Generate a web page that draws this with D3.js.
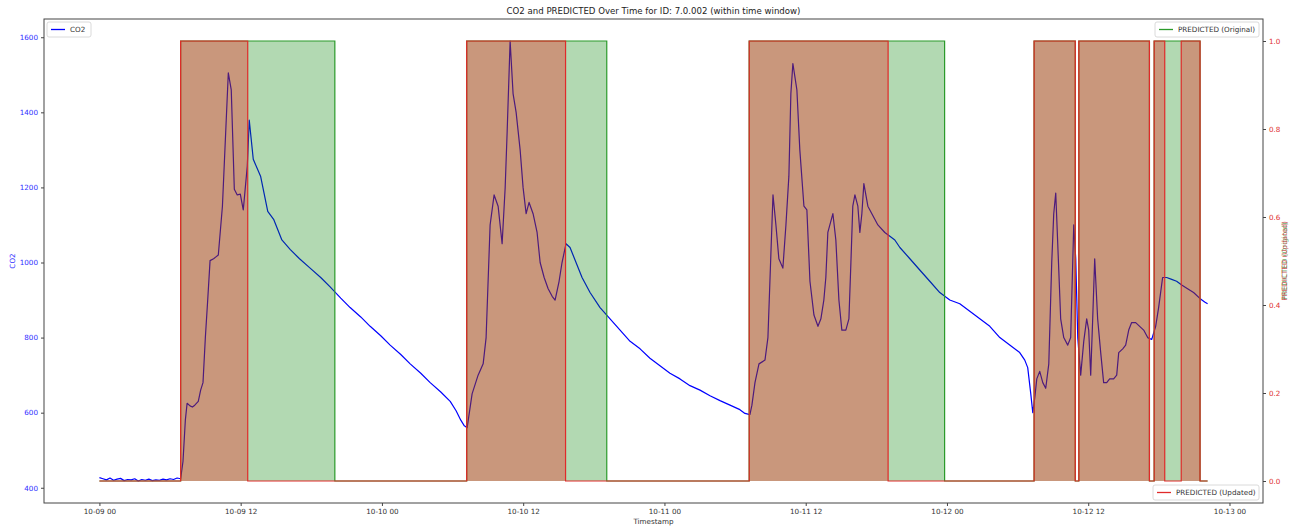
<!DOCTYPE html>
<html>
<head>
<meta charset="utf-8">
<script src="https://cdn.jsdelivr.net/npm/d3@7/dist/d3.min.js"></script>
<style>
  body { margin: 0; background: #fff; }
  svg text { font-family: "DejaVu Sans", sans-serif; }
</style>
</head>
<body>
<svg id="chart" width="1300" height="528"></svg>
<script>
// ---- data ----
const baseDate = new Date(2023, 9, 9, 0, 0, 0); // 10-09 00:00
const co2Hours = [
  0, 0.3, 0.6, 0.9, 1.2, 1.5, 1.8, 2.1, 2.4, 2.7, 3.0, 3.3, 3.6, 3.9, 4.2, 4.5, 4.8, 5.1, 5.4, 5.7, 6.0, 6.3, 6.6, 6.9,
  7.1, 7.3, 7.45, 7.7, 7.9, 8.1, 8.4, 8.6, 8.8, 9.0, 9.2, 9.4, 9.7, 9.9, 10.1, 10.45, 10.95, 11.2, 11.46, 11.71, 11.97, 12.22, 12.56, 12.73,
  13.07, 13.7, 14.3, 14.8, 15.5, 16.2, 17.0, 17.9, 18.8, 19.6, 20.5, 21.3, 22.2, 23.0, 23.9, 24.7, 25.6, 26.4, 27.3, 28.1, 29.0, 29.8, 30.3, 30.7, 31.0, 31.24,
  31.66, 32.17, 32.6, 32.85, 33.19, 33.53, 33.87, 34.21, 34.47, 34.64, 34.89, 35.14, 35.4, 35.74, 35.99, 36.25, 36.5, 36.84, 37.18, 37.44, 37.78, 38.12, 38.46, 38.71, 39.05, 39.3, 39.64,
  39.98, 40.49, 41.0, 41.68, 42.53, 43.38, 44.23, 45.08, 45.93, 46.77, 47.62, 48.47, 49.32, 50.17, 51.02, 51.87, 52.72, 53.57, 54.41, 54.84, 55.26,
  55.43, 55.69, 56.03, 56.54, 56.79, 56.96, 57.22, 57.47, 57.72, 58.06, 58.32, 58.57, 58.74, 58.91, 59.25, 59.5, 59.85, 60.1, 60.36, 60.7, 61.04, 61.29, 61.54, 61.71, 61.88, 62.31, 62.56, 62.82, 63.07, 63.41, 63.67, 63.84, 64.0, 64.18, 64.43, 64.6, 64.77, 64.94, 65.28, 65.62, 66.13, 66.72,
  67.15, 67.57, 68.0, 68.85, 69.69, 70.54, 71.39, 72.24, 73.09, 73.94, 74.79, 75.64, 76.49, 77.33, 78.18, 78.61, 78.86, 79.12, 79.29,
  79.46, 79.63, 79.88, 80.14, 80.39, 80.65, 80.9, 81.07, 81.24, 81.41, 81.66, 81.92, 82.26, 82.51, 82.77, 82.94, 83.11, 83.36, 83.62, 83.87, 84.04, 84.21, 84.38, 84.55, 84.8, 85.06, 85.31, 85.57, 85.82, 86.16, 86.42, 86.59, 86.93, 87.18, 87.44, 87.69, 88.03, 88.37, 88.71, 89.05, 89.39,
  89.73, 89.98, 90.32, 90.66, 91.09, 91.51, 91.94, 92.44, 92.95, 93.46, 93.89, 94.14
];
const co2Values = [
  427, 424, 421, 426, 420, 423, 425, 419, 422, 421, 424, 418, 422, 420, 423, 419, 421, 420, 423, 421, 424, 422, 426, 424,
  470, 580, 625, 618, 615, 620, 630, 660, 680, 800, 900, 1005, 1010, 1015, 1020, 1150, 1505, 1460, 1195, 1180, 1182, 1140, 1256, 1379,
  1275, 1229, 1136, 1115, 1060, 1035, 1010, 985, 960, 935, 905, 880, 855, 830, 805, 780, 755, 730, 705, 680, 655, 630, 605, 580, 565, 560,
  650, 700, 730, 800, 1100, 1180, 1150, 1050, 1200, 1350, 1590, 1450, 1400, 1300, 1200, 1130, 1160, 1130, 1080, 1000, 960, 930, 910, 900, 950, 1000, 1050,
  1040, 1000, 960, 920, 880, 850, 820, 790, 770, 745, 725, 705, 690, 672, 660, 645, 632, 620, 608, 598, 595,
  620, 680, 730, 740, 800, 950, 1180, 1100, 1010, 985, 1100, 1230, 1450, 1530, 1460, 1300, 1150, 1140, 950, 860, 830, 850, 900, 960, 1080, 1130, 1060, 900, 820, 820, 850, 1000, 1150, 1180, 1150, 1080, 1130, 1210, 1150, 1130, 1100, 1080,
  1070, 1060, 1040, 1010, 980, 950, 920, 900, 890, 870, 850, 830, 800, 780, 760, 740, 720, 650, 600,
  640, 690, 710, 680, 665, 730, 1000, 1130, 1185, 1050, 850, 800, 780, 800, 1100, 1010, 800, 700, 790, 850, 820, 700, 850, 1010, 850, 760, 680, 680, 690, 690, 700, 760, 770, 780, 820, 840, 840, 830, 820, 800, 795,
  830, 880, 960, 960, 955, 950, 940, 930, 920, 905, 895, 890
];
// PREDICTED periods (value 1 between start and end hour), 0 elsewhere
const originalStart = [6.9, 31.2, 55.2, 79.4, 83.2, 89.6];
const originalEnd   = [20.0, 43.1, 71.8, 82.9, 89.2, 93.5];
const updatedStart  = [6.9, 31.2, 55.2, 79.4, 83.2, 89.6, 91.9];
const updatedEnd    = [12.6, 39.6, 67.0, 82.9, 89.2, 90.5, 93.5];
const seriesEndHour = 94.14;
const leftTicks = [400, 600, 800, 1000, 1200, 1400, 1600];
const rightTicks = [0.0, 0.2, 0.4, 0.6, 0.8, 1.0];
const titleText = "CO2 and PREDICTED Over Time for ID: 7.0.002 (within time window)";

// ---- helpers ----
const toDate = h => new Date(baseDate.getTime() + h * 3600 * 1000);
function stepSeries(starts, ends) {
  const pts = [{t: 0, v: 0}];
  starts.forEach((s, i) => {
    pts.push({t: s, v: 0}, {t: s, v: 1}, {t: ends[i], v: 1}, {t: ends[i], v: 0});
  });
  pts.push({t: seriesEndHour, v: 0});
  return pts;
}
const co2 = co2Hours.map((h, i) => ({t: h, v: co2Values[i]}));
const orig = stepSeries(originalStart, originalEnd);
const upd = stepSeries(updatedStart, updatedEnd);

// ---- layout ----
const svg = d3.select("#chart");
const L = 44, R = 1263, T = 19, B = 503;

const hExt = [0, seriesEndHour];
const hPad = (hExt[1] - hExt[0]) * 0.05;
const x = d3.scaleTime().domain([toDate(hExt[0] - hPad), toDate(hExt[1] + hPad)]).range([L, R]);
const vExt = d3.extent(co2Values);
const vPad = (vExt[1] - vExt[0]) * 0.05;
const y = d3.scaleLinear().domain([vExt[0] - vPad, vExt[1] + vPad]).range([B, T]);
const y2 = d3.scaleLinear().domain([-0.05, 1.05]).range([B, T]);

svg.append("clipPath").attr("id", "clip").append("rect")
  .attr("x", L).attr("y", T).attr("width", R - L).attr("height", B - T);

const plot = svg.append("g").attr("clip-path", "url(#clip)");

// CO2 line (drawn under the twin axis fills)
plot.append("path").datum(co2)
  .attr("fill", "none").attr("stroke", "#0000ff").attr("stroke-width", 1.2)
  .attr("stroke-linejoin", "round")
  .attr("d", d3.line().x(d => x(toDate(d.t))).y(d => y(d.v)));

const area2 = d3.area().x(d => x(toDate(d.t))).y0(y2(0)).y1(d => y2(d.v));
const line2 = d3.line().x(d => x(toDate(d.t))).y(d => y2(d.v));

plot.append("path").datum(orig).attr("fill", "green").attr("fill-opacity", 0.3).attr("stroke", "none").attr("d", area2);
plot.append("path").datum(orig).attr("fill", "none").attr("stroke", "#2a9a2a").attr("stroke-width", 1.2).attr("d", line2);
plot.append("path").datum(upd).attr("fill", "red").attr("fill-opacity", 0.3).attr("stroke", "none").attr("d", area2);
plot.append("path").datum(upd).attr("fill", "none").attr("stroke", "#e02a2a").attr("stroke-width", 1.2).attr("d", line2);

// ---- axes ----
const fmt = d3.timeFormat("%m-%d %H");
const xAxis = d3.axisBottom(x).ticks(d3.timeHour.every(12)).tickFormat(fmt).tickSize(3).tickPadding(3);
const gx = svg.append("g").attr("transform", `translate(0,${B})`).call(xAxis);
gx.selectAll("text").attr("font-size", 7.2).attr("fill", "#333");

const yAxis = d3.axisLeft(y).tickValues(leftTicks).tickFormat(d3.format("d")).tickSize(3).tickPadding(3);
const gy = svg.append("g").attr("transform", `translate(${L},0)`).call(yAxis);
gy.selectAll("text").attr("font-size", 7.2).attr("fill", "#2f2fff");

const y2Axis = d3.axisRight(y2).tickValues(rightTicks).tickFormat(d3.format(".1f")).tickSize(3).tickPadding(3);
const gy2 = svg.append("g").attr("transform", `translate(${R},0)`).call(y2Axis);
gy2.selectAll("text").attr("font-size", 7.2).attr("fill", "#e03030");

[gx, gy, gy2].forEach(g => {
  g.select(".domain").remove();
  g.selectAll("line").attr("stroke", "#444");
});

// frame
svg.append("rect").attr("x", L).attr("y", T).attr("width", R - L).attr("height", B - T)
  .attr("fill", "none").attr("stroke", "#444").attr("stroke-width", 1);

// titles and labels
svg.append("text").attr("x", (L + R) / 2).attr("y", 14).attr("text-anchor", "middle")
  .attr("font-size", 8.6).attr("fill", "#222").text(titleText);
svg.append("text").attr("x", (L + R) / 2).attr("y", 524).attr("text-anchor", "middle")
  .attr("font-size", 7.2).attr("fill", "#333").text("Timestamp");
svg.append("text").attr("transform", `translate(15,${(T + B) / 2}) rotate(-90)`).attr("text-anchor", "middle")
  .attr("font-size", 7.2).attr("fill", "#2f2fff").text("CO2");
svg.append("text").attr("transform", `translate(1287,${(T + B) / 2}) rotate(-90)`).attr("text-anchor", "middle")
  .attr("font-size", 7.2).attr("fill", "#2e8b2e").attr("fill-opacity", 0.7).text("PREDICTED (Original)");
svg.append("text").attr("transform", `translate(1287,${(T + B) / 2}) rotate(-90)`).attr("text-anchor", "middle")
  .attr("font-size", 7.2).attr("fill", "#c03030").attr("fill-opacity", 0.8).text("PREDICTED (Updated)");

// legends
function legend(x0, y0, w, color, label) {
  const g = svg.append("g");
  g.append("rect").attr("x", x0).attr("y", y0).attr("width", w).attr("height", 15).attr("rx", 2)
    .attr("fill", "#fff").attr("fill-opacity", 0.8).attr("stroke", "#d0d0d0").attr("stroke-width", 0.8);
  g.append("line").attr("x1", x0 + 4).attr("x2", x0 + 18).attr("y1", y0 + 7.5).attr("y2", y0 + 7.5)
    .attr("stroke", color).attr("stroke-width", 1.3);
  g.append("text").attr("x", x0 + 23).attr("y", y0 + 10).attr("font-size", 7.2).attr("fill", "#333").text(label);
}
legend(47, 22, 44, "#0000ff", "CO2");
legend(1155, 22, 104, "#2a9a2a", "PREDICTED (Original)");
legend(1153, 485, 106, "#e02a2a", "PREDICTED (Updated)");
</script>
</body>
</html>
